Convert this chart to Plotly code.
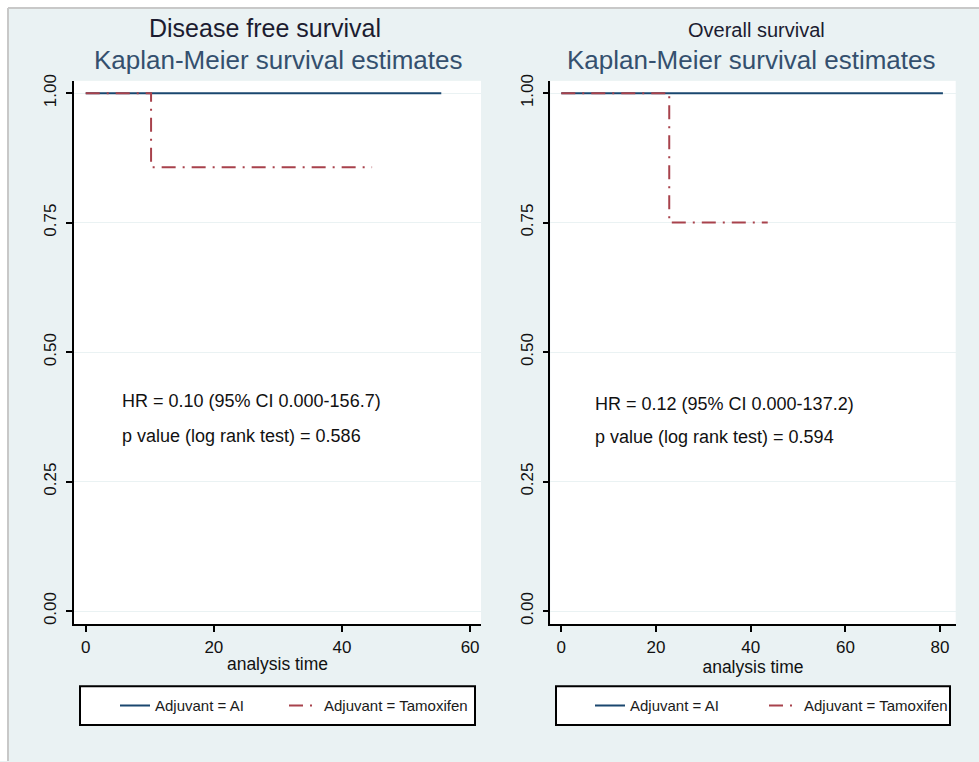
import plotly.graph_objects as go

# ---- data ----
dfs_ai_time = [0, 55.5]
dfs_ai_surv = [1.0, 1.0]
dfs_tam_time = [0, 10.2, 44.7]
dfs_tam_surv = [1.0, 0.857, 0.857]

os_ai_time = [0, 80.6]
os_ai_surv = [1.0, 1.0]
os_tam_time = [0, 22.8, 43.6]
os_tam_surv = [1.0, 0.75, 0.75]

y_ticks = [0, 0.25, 0.5, 0.75, 1.0]
y_ticktext = ["0.00", "0.25", "0.50", "0.75", "1.00"]
x_ticks_left = [0, 20, 40, 60]
x_ticks_right = [0, 20, 40, 60, 80]

series_names = ["Adjuvant = AI", "Adjuvant = Tamoxifen"]
panel_titles = ["Disease free survival", "Overall survival"]
subtitle = "Kaplan-Meier survival estimates"
left_stats = ["HR = 0.10 (95% CI 0.000-156.7)", "p value (log rank test) = 0.586"]
right_stats = ["HR = 0.12 (95% CI 0.000-137.2)", "p value (log rank test) = 0.594"]

# ---- styling ----
W, H = 979, 762
FONT = "Liberation Sans, Arial, sans-serif"
BG = "#eaf2f3"
NAVY = "#1a476f"
MAROON = "#a8424c"
DASH = "14px,7px,2px,7px"

def px_x(p):
    return p / W

def px_y(p):
    # vertical pixel position -> paper fraction (small offset/scale correction)
    q = p * 768 / 762 - 6
    return 1 - q / H

fig = go.Figure()

fig.add_trace(go.Scatter(x=dfs_ai_time, y=dfs_ai_surv, mode="lines", line_shape="hv",
                         line=dict(color=NAVY, width=2), name=series_names[0],
                         xaxis="x", yaxis="y", legend="legend"))
fig.add_trace(go.Scatter(x=dfs_tam_time, y=dfs_tam_surv, mode="lines", line_shape="hv",
                         line=dict(color=MAROON, width=2, dash=DASH), name=series_names[1],
                         xaxis="x", yaxis="y", legend="legend2"))
fig.add_trace(go.Scatter(x=os_ai_time, y=os_ai_surv, mode="lines", line_shape="hv",
                         line=dict(color=NAVY, width=2), name=series_names[0],
                         xaxis="x2", yaxis="y2", legend="legend3"))
fig.add_trace(go.Scatter(x=os_tam_time, y=os_tam_surv, mode="lines", line_shape="hv",
                         line=dict(color=MAROON, width=2, dash=DASH), name=series_names[1],
                         xaxis="x2", yaxis="y2", legend="legend4"))

ydom = [px_y(625), px_y(80)]
yrange = [-0.0256, 1.0237]

common_x = dict(showline=True, linecolor="black", linewidth=1.5, ticks="outside",
                ticklen=6, tickwidth=1.5, tickcolor="black", showgrid=False, zeroline=False,
                tickfont=dict(family=FONT, size=17, color="#111"),
                title=dict(text="analysis time", font=dict(family=FONT, size=17.5, color="#111"),
                           standoff=2))
common_y = dict(showline=True, linecolor="black", linewidth=1.5, ticks="outside",
                ticklen=6, tickwidth=1.5, tickcolor="black", showgrid=True,
                gridcolor=BG, gridwidth=1, zeroline=False, range=yrange,
                tickvals=y_ticks, ticktext=y_ticktext, tickangle=-90, ticklabelstandoff=3,
                tickfont=dict(family=FONT, size=17, color="#111"), domain=ydom)

def legend_at(px_left):
    return dict(x=px_x(px_left), y=px_y(706.5), orientation="h", xanchor="left",
                yanchor="middle", xref="paper", yref="paper", bgcolor="rgba(0,0,0,0)",
                borderwidth=0, font=dict(family=FONT, size=15, color="#1a1a1a"))

fig.update_layout(
    width=W, height=H, autosize=False,
    margin=dict(l=0, r=0, t=0, b=0),
    paper_bgcolor=BG, plot_bgcolor="white",
    font=dict(family=FONT),
    xaxis=dict(domain=[px_x(74), px_x(481)], range=[-1.83, 61.7], tickvals=x_ticks_left,
               anchor="y", **common_x),
    yaxis=dict(anchor="x", **common_y),
    xaxis2=dict(domain=[px_x(550.3), px_x(955.7)], range=[-2.32, 83.3],
                tickvals=x_ticks_right, anchor="y2", **common_x),
    yaxis2=dict(anchor="x2", **common_y),
    legend=legend_at(115),
    legend2=legend_at(284),
    legend3=legend_at(590),
    legend4=legend_at(764),
    showlegend=True,
)

shapes = [
    # white outer strips and gray frame lines
    dict(type="rect", xref="paper", yref="paper", x0=0, x1=1, y0=px_y(7), y1=1.05,
         fillcolor="white", line=dict(width=0), layer="below"),
    dict(type="rect", xref="paper", yref="paper", x0=0, x1=px_x(8), y0=0, y1=1.05,
         fillcolor="white", line=dict(width=0), layer="below"),
    dict(type="line", xref="paper", yref="paper", x0=px_x(8), x1=1, y0=px_y(7), y1=px_y(7),
         line=dict(color="#c8c8c8", width=2)),
    dict(type="line", xref="paper", yref="paper", x0=px_x(8), x1=px_x(8), y0=0, y1=px_y(7),
         line=dict(color="#c8c8c8", width=2)),
    # legend boxes
    dict(type="rect", xref="paper", yref="paper", x0=px_x(80), x1=px_x(475),
         y0=px_y(726), y1=px_y(687), fillcolor="white",
         line=dict(color="black", width=2), layer="below"),
    dict(type="rect", xref="paper", yref="paper", x0=px_x(556), x1=px_x(950),
         y0=px_y(726), y1=px_y(687), fillcolor="white",
         line=dict(color="black", width=2), layer="below"),
]
fig.update_layout(shapes=shapes)

annotations = [
    dict(text=panel_titles[0], x=px_x(264.5), y=px_y(27), xref="paper", yref="paper",
         xanchor="center", yanchor="middle", showarrow=False,
         font=dict(family=FONT, size=25, color="#1c1c30")),
    dict(text=subtitle, x=px_x(277.5), y=px_y(59), xref="paper", yref="paper",
         xanchor="center", yanchor="middle", showarrow=False,
         font=dict(family=FONT, size=26, color="#34506e")),
    dict(text=panel_titles[1], x=px_x(756.5), y=px_y(29), xref="paper", yref="paper",
         xanchor="center", yanchor="middle", showarrow=False,
         font=dict(family=FONT, size=20, color="#1c1c30")),
    dict(text=subtitle, x=px_x(751), y=px_y(59), xref="paper", yref="paper",
         xanchor="center", yanchor="middle", showarrow=False,
         font=dict(family=FONT, size=26, color="#34506e")),
    dict(text=left_stats[0], x=5.3, y=0.4057, xref="x", yref="y", xanchor="left",
         yanchor="middle", showarrow=False, font=dict(family=FONT, size=18, color="#111")),
    dict(text=left_stats[1], x=5.3, y=0.3383, xref="x", yref="y", xanchor="left",
         yanchor="middle", showarrow=False, font=dict(family=FONT, size=18, color="#111")),
    dict(text=right_stats[0], x=6.6, y=0.400, xref="x2", yref="y2", xanchor="left",
         yanchor="middle", showarrow=False, font=dict(family=FONT, size=18, color="#111")),
    dict(text=right_stats[1], x=6.6, y=0.336, xref="x2", yref="y2", xanchor="left",
         yanchor="middle", showarrow=False, font=dict(family=FONT, size=18, color="#111")),
]
fig.update_layout(annotations=annotations)

fig.write_html("out.html", config={"displayModeBar": False},
               post_script="document.body.style.margin='0';")
